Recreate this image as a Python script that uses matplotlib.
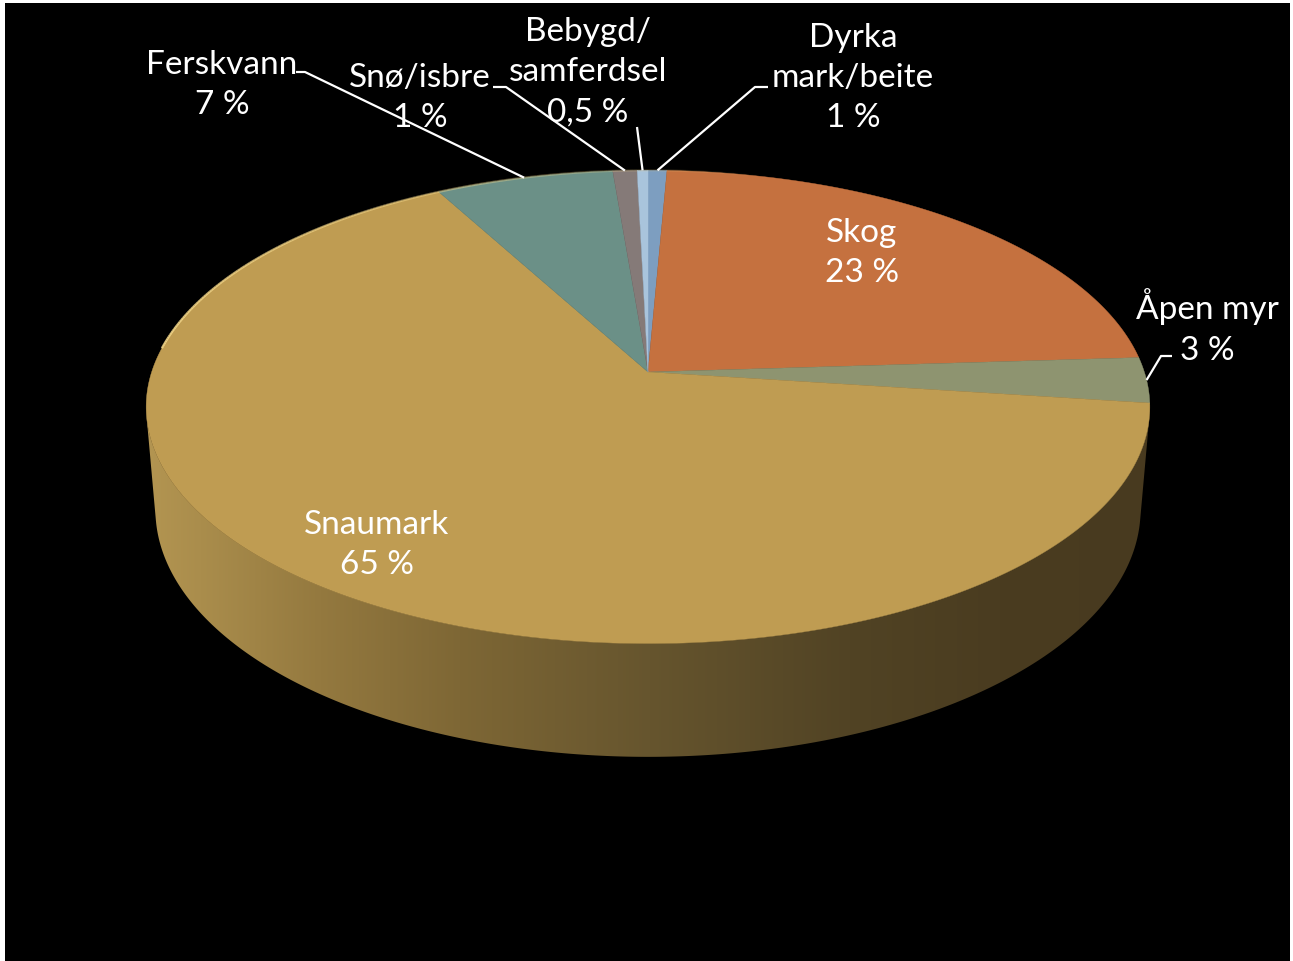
import numpy as np
import matplotlib
matplotlib.use("Agg")
import matplotlib.pyplot as plt
from matplotlib.patches import Polygon, Rectangle
from matplotlib.collections import LineCollection

# ---------------- data ----------------
categories = ["Dyrka\nmark/beite", "Skog", "Åpen myr", "Snaumark",
              "Ferskvann", "Snø/isbre", "Bebygd/\nsamferdsel"]
values = [0.7, 23.3, 3.1, 65.0, 6.6, 0.9, 0.4]
pct_labels = ["1 %", "23 %", "3 %", "65 %", "7 %", "1 %", "0,5 %"]
colors = ["#7d9ec0", "#c5713f", "#8e9470", "#bf9c52", "#6b9087", "#857a78", "#a9c4dc"]

# ---------------- layout / projection ----------------
W, H = 1293, 962
fig = plt.figure(figsize=(W / 100, H / 100), dpi=100, facecolor="white")
ax = fig.add_axes([0, 0, 1, 1])
ax.set_xlim(0, W)
ax.set_ylim(H, 0)
ax.axis("off")
ax.add_patch(Rectangle((5, 4), 1285, 960, facecolor="black", edgecolor="none", zorder=0))

CX, CY = 648, 373
F = 2973.0
L = 5.99
ELEV = np.radians(27.8)
CE, SE = np.cos(ELEV), np.sin(ELEV)
THICK = 0.236


def proj(x, y, z):
    depth = y * CE - z * SE + L
    sx = CX + F * x / depth
    sy = CY - F * (y * SE + z * CE) / depth
    return sx, sy


def arc(t0, t1, z, n=None):
    if n is None:
        n = max(4, int(abs(t1 - t0) * 2) + 2)
    t = np.radians(np.linspace(t0, t1, n))
    return np.column_stack(proj(np.cos(t), np.sin(t), np.full_like(t, z)))


vals = np.array(values, dtype=float)
fracs = vals / vals.sum()
start = 90.0
bounds = start - np.concatenate([[0], np.cumsum(fracs) * 360.0])

# ---------------- side wall (visible front part) ----------------
lim = np.degrees(np.arcsin(1.0 / (L * CE)))
vis_hi, vis_lo = -lim, -180 + lim

gx = np.linspace(0, W, 600)
stops_x = [140, 200, 320, 460, 650, 850, 1000, 1160]
stops_c = [(180, 150, 82), (170, 141, 76), (148, 121, 63), (126, 103, 53),
           (102, 85, 46), (81, 67, 36), (74, 60, 32), (72, 58, 31)]
stops_c = np.array(stops_c) / 255.0
grad = np.stack([np.interp(gx, stops_x, stops_c[:, i]) for i in range(3)], axis=-1)[None, :, :]

for i in range(len(vals)):
    a0, a1 = bounds[i], bounds[i + 1]
    hi, lo = min(a0, vis_hi), max(a1, vis_lo)
    if hi <= lo:
        continue
    top = arc(hi, lo, 0.0)
    bot = arc(lo, hi, -THICK)
    poly = Polygon(np.vstack([top, bot]), closed=True, facecolor="none",
                   edgecolor="none", zorder=1)
    ax.add_patch(poly)
    im = ax.imshow(grad, extent=(0, W, H, 0), aspect="auto", zorder=1,
                   interpolation="bilinear")
    im.set_clip_path(poly)

ax.set_xlim(0, W)
ax.set_ylim(H, 0)

# ---------------- top faces ----------------
apex = np.array(proj(0.0, 0.0, 0.0))
for i in range(len(vals)):
    pts = np.vstack([apex, arc(bounds[i], bounds[i + 1], 0.0)])
    ax.add_patch(Polygon(pts, closed=True, facecolor=colors[i],
                         edgecolor=colors[i], linewidth=0.3, zorder=2))

# rim highlight on front-left edge
hl = arc(-186, -285, 0.0, 200)
segs = np.stack([hl[:-1], hl[1:]], axis=1)
alphas = np.linspace(0.85, 0.0, len(segs)) ** 0.8
hl_cols = [(0.96, 0.85, 0.55, a) for a in alphas]
ax.add_collection(LineCollection(segs, colors=hl_cols, linewidths=1.6, zorder=3))

# ---------------- labels ----------------
font = dict(family="Lato", fontsize=24, color="white", ha="center", va="center",
            linespacing=1.42, zorder=5)

label_pos = {
    0: (853, 78),
    1: (862, 253),
    2: (1207, 327),
    3: (377, 545),
    4: (222, 85),
    5: (420, 98),
    6: (588, 72),
}
elbows = {
    0: [(768, 88), (755, 88)],
    2: [(1172, 357), (1161, 357)],
    4: [(296, 73), (305, 73)],
    5: [(493, 88), (506, 88)],
    6: [(637, 128)],
}

for i in range(len(vals)):
    tx, ty = label_pos[i]
    ax.text(tx, ty, f"{categories[i]}\n{pct_labels[i]}", **font)
    if i in elbows:
        mid = np.radians((bounds[i] + bounds[i + 1]) / 2)
        anchor = proj(np.cos(mid), np.sin(mid), 0.0)
        pts = np.array(elbows[i] + [anchor])
        ax.plot(pts[:, 0], pts[:, 1], color="white", lw=1.6, zorder=4,
                solid_capstyle="butt")

fig.savefig("out.png", dpi=100, facecolor=fig.get_facecolor())
